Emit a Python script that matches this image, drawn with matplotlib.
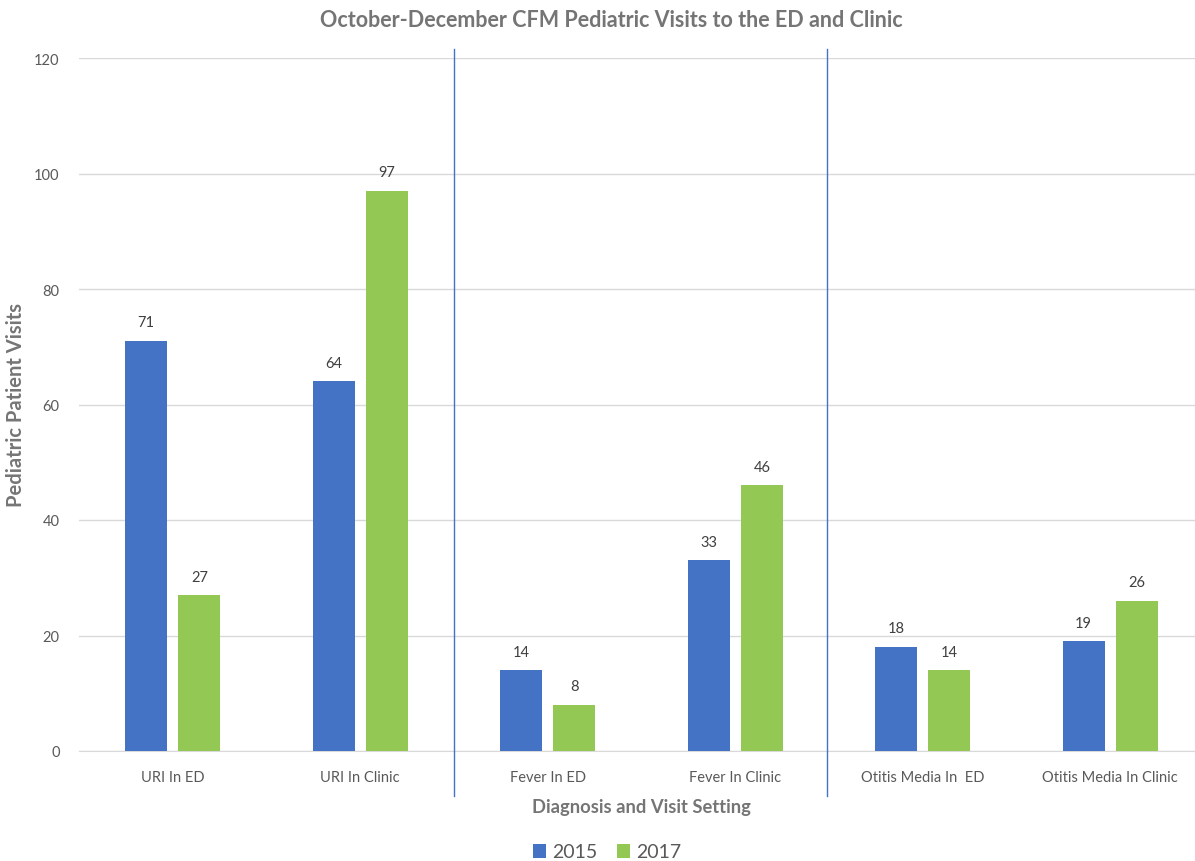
import numpy as np
import matplotlib.pyplot as plt

plt.rcParams['font.family'] = ['Lato', 'DejaVu Sans']

# Data
categories = ["URI In ED", "URI In Clinic", "Fever In ED", "Fever In Clinic",
              "Otitis Media In  ED", "Otitis Media In Clinic"]
visits_2015 = [71, 64, 14, 33, 18, 19]
visits_2017 = [27, 97, 8, 46, 14, 26]

blue = "#4472C4"
green = "#92C853"
gray = "#595959"

fig = plt.figure(figsize=(11.95, 8.62), dpi=100)
ax = fig.add_axes([79 / 1195, 1 - 752 / 862, 1125 / 1195, 693 / 862])

x = np.arange(len(categories))
w = 0.224
b1 = ax.bar(x - 0.142, visits_2015, w, color=blue, label="2015", zorder=3)
b2 = ax.bar(x + 0.142, visits_2017, w, color=green, label="2017", zorder=3)

# value labels
for bars in (b1, b2):
    for rect in bars:
        h = rect.get_height()
        ax.text(rect.get_x() + rect.get_width() / 2, h + 2.0, f"{h:g}",
                ha="center", va="bottom", fontsize=10.5, color="#404040")

ax.set_xlim(-0.5, 5.5)
ax.set_ylim(0, 120)
ax.set_yticks(range(0, 121, 20))
ax.set_xticks(x)
ax.set_xticklabels(categories)
ax.tick_params(axis="both", length=0, labelsize=10.5, labelcolor=gray)
ax.tick_params(axis="x", pad=14)
ax.tick_params(axis="y", pad=14)
ax.grid(axis="y", color="#D9D9D9", linewidth=1, zorder=0)
for s in ["top", "right", "left"]:
    ax.spines[s].set_visible(False)
ax.spines["bottom"].set_color("#D9D9D9")

# separator lines between diagnosis groups
for xv in [1.50, 3.49]:
    ax.axvline(xv, ymin=-0.065, ymax=1.013, color=blue, linewidth=1.0,
               clip_on=False, zorder=4)

fig.suptitle("October-December CFM Pediatric Visits to the ED and Clinic",
             x=611 / 1195, y=1 - 10 / 862, fontsize=15.5, fontweight="bold",
             color="#757575", va="top")
ax.set_xlabel("Diagnosis and Visit Setting", fontsize=13.2, fontweight="bold",
              color="#757575", labelpad=10)
ax.set_ylabel("Pediatric Patient Visits", fontsize=14.5, fontweight="bold",
              color="#757575", labelpad=6)

leg = fig.legend(loc="center", bbox_to_anchor=(607 / 1195, 1 - 853 / 862),
                 ncol=2, frameon=False, fontsize=14, handlelength=0.7,
                 handleheight=0.7, handletextpad=0.3, columnspacing=1.0)
for t in leg.get_texts():
    t.set_color(gray)

fig.savefig("out.png", dpi=100)
